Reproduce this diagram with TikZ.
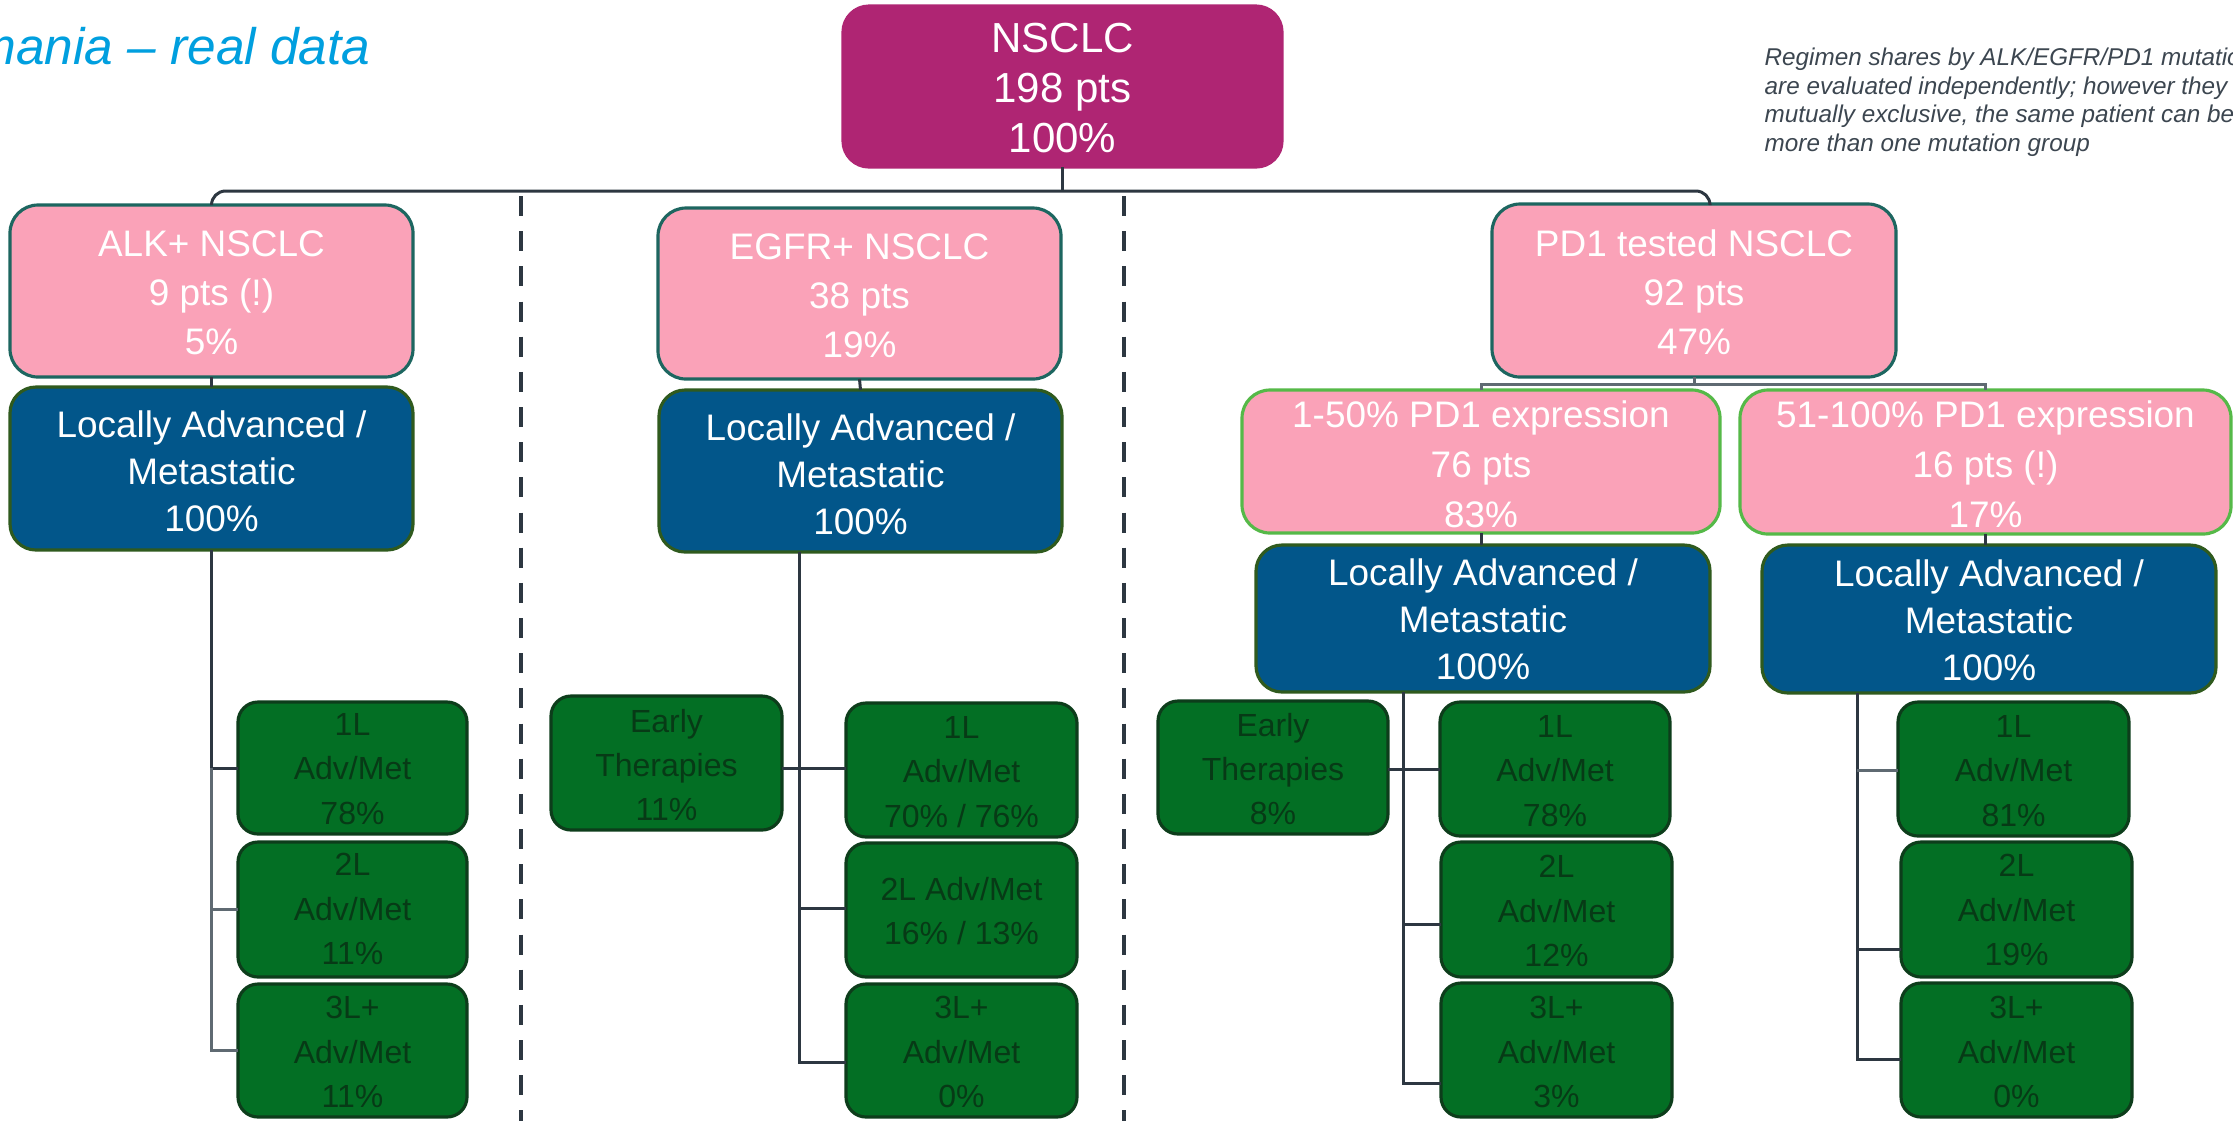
\documentclass[tikz,border=0pt]{standalone}
\usepackage{fontspec}
\setmainfont{Liberation Sans}
\usetikzlibrary{calc}
\definecolor{cMag}{HTML}{AF2573}
\definecolor{cPink}{HTML}{FAA2B8}
\definecolor{cTeal}{HTML}{1D6660}
\definecolor{cLgreen}{HTML}{55B948}
\definecolor{cBlue}{HTML}{02568A}
\definecolor{cOlive}{HTML}{2F5A1E}
\definecolor{cGreen}{HTML}{036F24}
\definecolor{cDgreen}{HTML}{0D3D1B}
\definecolor{cGtext}{HTML}{073A16}
\definecolor{cLine}{HTML}{2D3741}
\definecolor{cLine2}{HTML}{5F6A72}
\definecolor{cCyan}{HTML}{009FDF}
\definecolor{cNote}{HTML}{3C4650}
\tikzset{
  basebox/.style={draw, line width=0.9pt, inner sep=0pt, outer sep=0pt},
  magbox/.style={basebox, fill=cMag, draw=cMag, rounded corners=0.26cm},
  pinkbox/.style={basebox, fill=cPink, draw=cTeal, rounded corners=0.28cm},
  pinkgbox/.style={basebox, fill=cPink, draw=cLgreen, rounded corners=0.28cm},
  bluebox/.style={basebox, fill=cBlue, draw=cOlive, rounded corners=0.26cm},
  greenbox/.style={basebox, fill=cGreen, draw=cDgreen, rounded corners=0.2cm},
  magtext/.style={text=white, font=\fontsize{11.95}{14.17}\selectfont, align=center, inner sep=0pt},
  pinktext/.style={text=white, font=\fontsize{10.5}{13.9}\selectfont, align=center, inner sep=0pt},
  pinkgtext/.style={text=white, font=\fontsize{10.5}{14.2}\selectfont, align=center, inner sep=0pt},
  bluetext/.style={text=white, font=\fontsize{10.5}{13.4}\selectfont, align=center, inner sep=0pt},
  greentext/.style={text=cGtext, font=\fontsize{9.1}{12.6}\selectfont, align=center, inner sep=0pt},
  conn/.style={draw=cLine, line width=0.85pt},
  conntwo/.style={draw=cLine2, line width=0.85pt},
  sepline/.style={draw=cLine, line width=1.2pt, dash pattern=on 5.7pt off 4.3pt},
  subtitle/.style={text=cCyan, font=\fontsize{14.6}{17}\selectfont\itshape, inner sep=0pt},
  notetext/.style={text=cNote, font=\fontsize{6.9}{8.2}\selectfont\itshape, align=left, inner sep=0pt},
}
\newcommand\BX[9]{%
  \pgfmathsetmacro\myBW{(#6-#4)*0.01}%
  \pgfmathsetmacro\myBH{(#7-#5)*0.01}%
  \node[#2, minimum width=\myBW cm, minimum height=\myBH cm] (#1) at ({(#4+#6)/2},{(#5+#7)/2}) {};%
  \node[#3] (#1t) at ({(#4+#6)/2},#8) {#9};%
}
\begin{document}
\begin{tikzpicture}[x=0.01cm, y=-0.01cm]
\fill[white] (0,0) rectangle (2233,1120);
\useasboundingbox (0,0) rectangle (2233,1120);

% titles
\node[subtitle, anchor=base east] (sub) at (371,64) {Romania – real data};
\node[notetext, anchor=north west] (note) at (1764,47) {Regimen shares by ALK/EGFR/PD1 mutation\\are evaluated independently; however they are\\mutually exclusive, the same patient can belong\\more than one mutation group};

% separators
\draw[sepline] (521,196) -- (521,1125);
\draw[sepline] (1124,196) -- (1124,1125);

% boxes
\BX{nsclc}{magbox}{magtext}{843}{6}{1282}{167}{88}{NSCLC\\198 pts\\100\%}
\BX{alk}{pinkbox}{pinktext}{10}{205}{413}{377}{293}{ALK+ NSCLC\\9 pts (!)\\5\%}
\BX{blA}{bluebox}{bluetext}{10}{387}{413}{550}{471}{Locally Advanced /\\Metastatic\\100\%}
\BX{gA1}{greenbox}{greentext}{238}{702}{467}{834}{769}{1L\\Adv/Met\\78\%}
\BX{gA2}{greenbox}{greentext}{238}{842}{467}{977}{909}{2L\\Adv/Met\\11\%}
\BX{gA3}{greenbox}{greentext}{238}{984}{467}{1117}{1052}{3L+\\Adv/Met\\11\%}

\BX{egfr}{pinkbox}{pinktext}{658}{208}{1061}{379}{296}{EGFR+ NSCLC\\38 pts\\19\%}
\BX{blE}{bluebox}{bluetext}{659}{390}{1062}{552}{474}{Locally Advanced /\\Metastatic\\100\%}
\BX{eE}{greenbox}{greentext}{551}{696}{782}{830}{765}{Early\\Therapies\\11\%}
\BX{gE1}{greenbox}{greentext}{846}{703}{1077}{837}{772}{1L\\Adv/Met\\70\% / 76\%}
\BX{gE2}{greenbox}{greentext}{846}{843}{1077}{977}{911}{2L Adv/Met\\16\% / 13\%}
\BX{gE3}{greenbox}{greentext}{846}{984}{1077}{1117}{1052}{3L+\\Adv/Met\\0\%}

\BX{pd}{pinkbox}{pinktext}{1492}{204}{1896}{377}{292}{PD1 tested NSCLC\\92 pts\\47\%}
\BX{pA}{pinkgbox}{pinkgtext}{1242}{390}{1720}{533}{464}{1-50\% PD1 expression\\76 pts\\83\%}
\BX{pB}{pinkgbox}{pinkgtext}{1740}{390}{2231}{534}{464}{51-100\% PD1 expression\\16 pts (!)\\17\%}
\BX{blP}{bluebox}{bluetext}{1256}{545}{1710}{692}{619}{Locally Advanced /\\Metastatic\\100\%}
\BX{blQ}{bluebox}{bluetext}{1762}{545}{2216}{693}{620}{Locally Advanced /\\Metastatic\\100\%}
\BX{eP}{greenbox}{greentext}{1158}{701}{1388}{834}{769}{Early\\Therapies\\8\%}
\BX{gP1}{greenbox}{greentext}{1440}{702}{1670}{836}{771}{1L\\Adv/Met\\78\%}
\BX{gP2}{greenbox}{greentext}{1441}{842}{1672}{977}{911}{2L\\Adv/Met\\12\%}
\BX{gP3}{greenbox}{greentext}{1441}{983}{1672}{1117}{1052}{3L+\\Adv/Met\\3\%}
\BX{gQ1}{greenbox}{greentext}{1898}{702}{2129}{836}{771}{1L\\Adv/Met\\81\%}
\BX{gQ2}{greenbox}{greentext}{1901}{842}{2132}{977}{910}{2L\\Adv/Met\\19\%}
\BX{gQ3}{greenbox}{greentext}{1901}{983}{2132}{1117}{1052}{3L+\\Adv/Met\\0\%}

% helper coordinates
\coordinate (topR) at (1710,191);
\coordinate (hP) at (0,384);
\coordinate (vE) at (799,0);
\coordinate (hE1) at (0,768);
\coordinate (hE2) at (0,908);
\coordinate (hE3) at (0,1062);
\coordinate (vP) at (1403,0);
\coordinate (hP1) at (0,769);
\coordinate (hP2) at (0,924);
\coordinate (hP3) at (0,1083);
\coordinate (vQ) at (1857,0);
\coordinate (hQ1) at (0,770);
\coordinate (hQ2) at (0,949);
\coordinate (hQ3) at (0,1059);

% top level connectors
\draw[conn] (nsclc.south) -- (nsclc.south |- topR);
\draw[conn, rounded corners=4pt] (alk.north) |- (topR) -- (pd.north -| topR);

% ALK branch
\draw[conn] (alk.south) -- (blA.north);
\draw[conn] (blA.south) -- (blA.south |- gA1.west) -- (gA1.west);
\draw[conntwo] (blA.south |- gA1.west) -- (blA.south |- gA3.west) -- (gA3.west);
\draw[conntwo] (blA.south |- gA2.west) -- (gA2.west);

% EGFR branch
\draw[conn] (egfr.south) -- (blE.north);
\draw[conn] (blE.south -| vE) -- (vE |- hE3) -- (gE3.west |- hE3);
\draw[conn] (eE.east |- hE1) -- (gE1.west |- hE1);
\draw[conn] (vE |- hE2) -- (gE2.west |- hE2);

% PD1 branch
\draw[conntwo] (pd.south) -- (pd.south |- hP);
\draw[conntwo] (pA.north) |- (pB.north |- hP) -- (pB.north);
\draw[conn] (pA.south) -- (pA.south |- blP.north);
\draw[conn] (pB.south) -- (pB.south |- blQ.north);
\draw[conn] (blP.south -| vP) -- (vP |- hP3) -- (gP3.west |- hP3);
\draw[conn] (eP.east |- hP1) -- (gP1.west |- hP1);
\draw[conn] (vP |- hP2) -- (gP2.west |- hP2);
\draw[conn] (blQ.south -| vQ) -- (vQ |- hQ3) -- (gQ3.west |- hQ3);
\draw[conntwo] (vQ |- hQ1) -- (gQ1.west |- hQ1);
\draw[conn] (vQ |- hQ2) -- (gQ2.west |- hQ2);
\end{tikzpicture}
\end{document}
